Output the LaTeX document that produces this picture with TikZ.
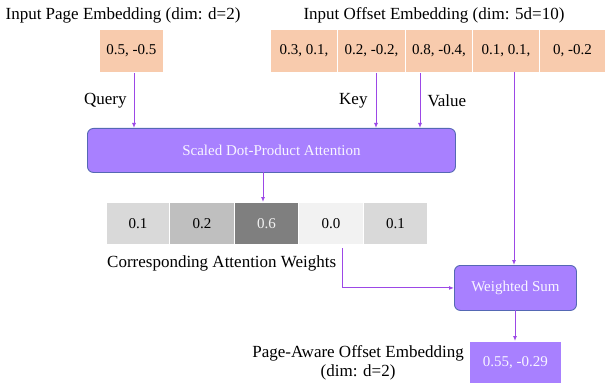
\documentclass[tikz,border=0pt]{standalone}
\usepackage{fontspec}
\setmainfont{Liberation Serif}
\usetikzlibrary{arrows.meta}
\definecolor{peach}{HTML}{F8CBAD}
\definecolor{violetfill}{HTML}{A880FF}
\definecolor{violetedge}{HTML}{5568B4}
\definecolor{arrowviolet}{HTML}{9C48E6}
\definecolor{gA}{HTML}{D9D9D9}
\definecolor{gB}{HTML}{BFBFBF}
\definecolor{gC}{HTML}{7F7F7F}
\definecolor{gD}{HTML}{F2F2F2}
\tikzset{
  cell/.style={draw=white, line width=0.8pt, inner sep=0pt, anchor=north west,
    font=\fontsize{15}{17}\selectfont},
  peachcell/.style={cell, fill=peach},
  wcell/.style={cell},
  procbox/.style={draw=violetedge, line width=0.9pt, fill=violetfill, rounded corners=6pt,
    text=white!92!violetfill, font=\fontsize{15}{17}\selectfont, inner sep=0pt, anchor=north west},
  lbl/.style={font=\fontsize{17}{19}\selectfont, inner sep=0pt},
  flow/.style={draw=arrowviolet, line width=1pt, -{Latex[length=5pt,width=4pt]}},
}
\begin{document}
\begin{tikzpicture}[x=1pt, y=-1pt]
\useasboundingbox (0,0) rectangle (605,385);

% input page embedding
\node[lbl] (pagelbl) at (123,15) {Input Page Embedding (dim: d=2)};
\node[peachcell, minimum width=64pt, minimum height=43pt] (page) at (99,29) {0.5, -0.5};

% input offset embedding
\node[lbl] (offlbl) at (434,15) {Input Offset Embedding (dim: 5d=10)};
\node[peachcell, minimum width=67pt, minimum height=43pt] (o1) at (270,29) {0.3, 0.1,};
\node[peachcell, minimum width=68pt, minimum height=43pt] (o2) at (337,29) {0.2, -0.2,};
\node[peachcell, minimum width=67pt, minimum height=43pt] (o3) at (405,29) {0.8, -0.4,};
\node[peachcell, minimum width=67pt, minimum height=43pt] (o4) at (472,29) {0.1, 0.1,};
\node[peachcell, minimum width=66pt, minimum height=43pt] (o5) at (539,29) {0, -0.2};

% attention block
\node[procbox, minimum width=368pt, minimum height=44pt] (att) at (87,128) {Scaled Dot-Product Attention};

% attention weights
\node[wcell, fill=gA, minimum width=63pt, minimum height=42pt] (w1) at (106,202) {0.1};
\node[wcell, fill=gB, minimum width=65pt, minimum height=42pt] (w2) at (169,202) {0.2};
\node[wcell, fill=gC, text=gD, minimum width=64pt, minimum height=42pt] (w3) at (234,202) {0.6};
\node[wcell, fill=gD, minimum width=65pt, minimum height=42pt] (w4) at (298,202) {0.0};
\node[wcell, fill=gA, minimum width=64pt, minimum height=42pt] (w5) at (363,202) {0.1};
\node[lbl, anchor=west] (wlbl) at (107,263) {Corresponding Attention Weights};

% weighted sum and output
\node[procbox, minimum width=122pt, minimum height=45pt] (sum) at (454,265) {Weighted Sum};
\node[cell, fill=violetfill, text=white!92!violetfill, minimum width=92pt, minimum height=42pt] (out) at (469,341) {0.55, -0.29};
\node[lbl, align=center, anchor=east] (outlbl) at (464,363) {Page-Aware Offset Embedding\\(dim: d=2)};

% connectors
\coordinate (qin) at (134,128);
\coordinate (kin) at (376,128);
\coordinate (vin) at (420,128);
\draw[flow] (page.south -| qin) -- node[lbl, left=7pt] {Query} (qin);
\draw[flow] (o2.south -| kin) -- node[lbl, left=8pt] {Key} (kin);
\draw[flow] (o3.south -| vin) -- node[lbl, right=7pt] {Value} (vin);
\coordinate (wsrc) at (263,172);
\draw[flow] (wsrc) -- (wsrc |- w3.north);
\coordinate (wout) at (342,248);
\draw[flow] (wout) |- (sum.west);
\coordinate (vsum) at (514,72);
\draw[flow] (vsum) -- (vsum |- sum.north);
\coordinate (sout) at (515,310);
\draw[flow] (sout) -- (sout |- out.north);
\end{tikzpicture}
\end{document}
